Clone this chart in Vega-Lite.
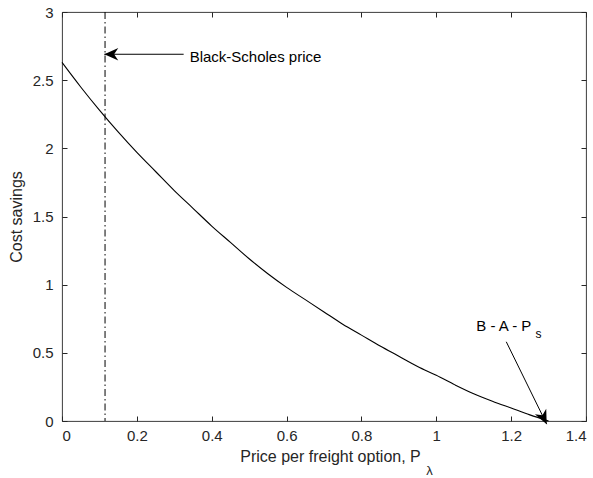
{
  "$schema": "https://vega.github.io/schema/vega-lite/v6.json",
  "width": 524,
  "height": 409,
  "autosize": {"type": "none"},
  "padding": {"left": 62, "top": 12, "right": 7, "bottom": 57},
  "background": "white",
  "config": {
    "view": {"stroke": "#262626", "strokeWidth": 0.9},
    "font": "Liberation Sans",
    "axis": {
      "grid": false,
      "domain": false,
      "offset": -5,
      "tickColor": "#262626",
      "tickWidth": 1,
      "tickSize": 5,
      "labelColor": "#262626",
      "titleColor": "#262626",
      "labelFont": "Liberation Sans",
      "titleFont": "Liberation Sans",
      "labelFontSize": 15,
      "titleFontSize": 16,
      "titleFontWeight": "normal"
    }
  },
  "datasets": {
    "savings": [
      {"price": 0.0, "cost_savings": 2.63},
      {"price": 0.05, "cost_savings": 2.45},
      {"price": 0.1, "cost_savings": 2.28},
      {"price": 0.15, "cost_savings": 2.12},
      {"price": 0.2, "cost_savings": 1.97},
      {"price": 0.25, "cost_savings": 1.83},
      {"price": 0.3, "cost_savings": 1.69},
      {"price": 0.35, "cost_savings": 1.56},
      {"price": 0.4, "cost_savings": 1.43},
      {"price": 0.45, "cost_savings": 1.31},
      {"price": 0.5, "cost_savings": 1.19},
      {"price": 0.55, "cost_savings": 1.08},
      {"price": 0.6, "cost_savings": 0.98},
      {"price": 0.65, "cost_savings": 0.89},
      {"price": 0.7, "cost_savings": 0.8},
      {"price": 0.75, "cost_savings": 0.71},
      {"price": 0.8, "cost_savings": 0.63},
      {"price": 0.85, "cost_savings": 0.55},
      {"price": 0.9, "cost_savings": 0.475},
      {"price": 0.95, "cost_savings": 0.4},
      {"price": 1.0, "cost_savings": 0.335},
      {"price": 1.05, "cost_savings": 0.265},
      {"price": 1.1, "cost_savings": 0.2},
      {"price": 1.15, "cost_savings": 0.145},
      {"price": 1.2, "cost_savings": 0.095},
      {"price": 1.25, "cost_savings": 0.045},
      {"price": 1.3, "cost_savings": 0.0}
    ],
    "black_scholes": [
      {"price": 0.115}
    ],
    "arrows": [
      {"name": "bs", "x": 0.325, "y": 2.69, "x2": 0.113, "y2": 2.69},
      {"name": "breakeven", "x": 1.187, "y": 0.581, "x2": 1.295, "y2": -0.023}
    ],
    "one": [{}]
  },
  "layer": [
    {
      "data": {"name": "savings"},
      "mark": {"type": "line", "color": "black", "strokeWidth": 1.1, "interpolate": "monotone"},
      "encoding": {
        "x": {
          "field": "price",
          "type": "quantitative",
          "scale": {"domain": [0, 1.4], "nice": false, "zero": false},
          "axis": {
            "orient": "bottom",
            "values": [0, 0.2, 0.4, 0.6, 0.8, 1, 1.2, 1.4],
            "format": "~g",
            "labelPadding": 7,
            "title": "Price per freight option, P",
            "titlePadding": 5,
            "titleX": 268
          }
        },
        "y": {
          "field": "cost_savings",
          "type": "quantitative",
          "scale": {"domain": [0, 3], "nice": false, "zero": false},
          "axis": {
            "orient": "left",
            "values": [0, 0.5, 1, 1.5, 2, 2.5, 3],
            "format": "~g",
            "labelPadding": 9,
            "title": "Cost savings",
            "titlePadding": 8
          }
        }
      }
    },
    {
      "data": {"name": "black_scholes"},
      "mark": {"type": "rule", "color": "black", "strokeWidth": 1, "strokeDash": [7, 3, 1.5, 3]},
      "encoding": {
        "x": {"field": "price", "type": "quantitative", "scale": {"domain": [0, 1.4], "nice": false, "zero": false}, "axis": null}
      }
    },
    {
      "data": {"name": "arrows"},
      "mark": {"type": "rule", "color": "black", "strokeWidth": 1},
      "encoding": {
        "x": {
          "field": "x",
          "type": "quantitative",
          "scale": {"domain": [0, 1.4], "nice": false, "zero": false},
          "axis": {"orient": "top", "values": [0, 0.2, 0.4, 0.6, 0.8, 1, 1.2, 1.4], "labels": false, "title": null}
        },
        "y": {
          "field": "y",
          "type": "quantitative",
          "scale": {"domain": [0, 3], "nice": false, "zero": false},
          "axis": {"orient": "right", "values": [0, 0.5, 1, 1.5, 2, 2.5, 3], "labels": false, "title": null}
        },
        "x2": {"field": "x2"},
        "y2": {"field": "y2"}
      }
    },
    {
      "data": {"name": "arrows"},
      "transform": [{"filter": "datum.name === 'bs'"}],
      "mark": {"type": "point", "shape": "M0,0L-2,-0.9L-1.4,0L-2,0.9Z", "filled": true, "color": "black", "opacity": 1, "size": 196, "angle": 180},
      "encoding": {
        "x": {"field": "x2", "type": "quantitative", "scale": {"domain": [0, 1.4], "nice": false, "zero": false}, "axis": null},
        "y": {"field": "y2", "type": "quantitative", "scale": {"domain": [0, 3], "nice": false, "zero": false}, "axis": null}
      }
    },
    {
      "data": {"name": "arrows"},
      "transform": [{"filter": "datum.name === 'breakeven'"}],
      "mark": {"type": "point", "shape": "M0,0L-2,-0.9L-1.4,0L-2,0.9Z", "filled": true, "color": "black", "opacity": 1, "size": 196, "angle": 64},
      "encoding": {
        "x": {"field": "x2", "type": "quantitative", "scale": {"domain": [0, 1.4], "nice": false, "zero": false}, "axis": null},
        "y": {"field": "y2", "type": "quantitative", "scale": {"domain": [0, 3], "nice": false, "zero": false}, "axis": null}
      }
    },
    {
      "data": {"name": "one"},
      "mark": {"type": "text", "text": "Black-Scholes price", "align": "left", "baseline": "alphabetic", "fontSize": 15, "color": "black"},
      "encoding": {
        "x": {"datum": 0.341, "type": "quantitative", "axis": null},
        "y": {"datum": 2.63, "type": "quantitative", "axis": null}
      }
    },
    {
      "data": {"name": "one"},
      "mark": {"type": "text", "text": "B - A - P", "align": "left", "baseline": "alphabetic", "fontSize": 15, "color": "black"},
      "encoding": {
        "x": {"datum": 1.107, "type": "quantitative", "axis": null},
        "y": {"datum": 0.662, "type": "quantitative", "axis": null}
      }
    },
    {
      "data": {"name": "one"},
      "mark": {"type": "text", "text": "s", "align": "center", "baseline": "middle", "fontSize": 12, "color": "black"},
      "encoding": {
        "x": {"datum": 1.273, "type": "quantitative", "axis": null},
        "y": {"datum": 0.638, "type": "quantitative", "axis": null}
      }
    },
    {
      "data": {"name": "one"},
      "mark": {"type": "text", "text": "λ", "align": "center", "baseline": "middle", "fontSize": 13, "color": "#262626"},
      "encoding": {
        "x": {"datum": 0.982, "type": "quantitative", "axis": null},
        "y": {"datum": -0.368, "type": "quantitative", "axis": null}
      }
    }
  ],
  "resolve": {"axis": {"x": "independent", "y": "independent"}}
}
